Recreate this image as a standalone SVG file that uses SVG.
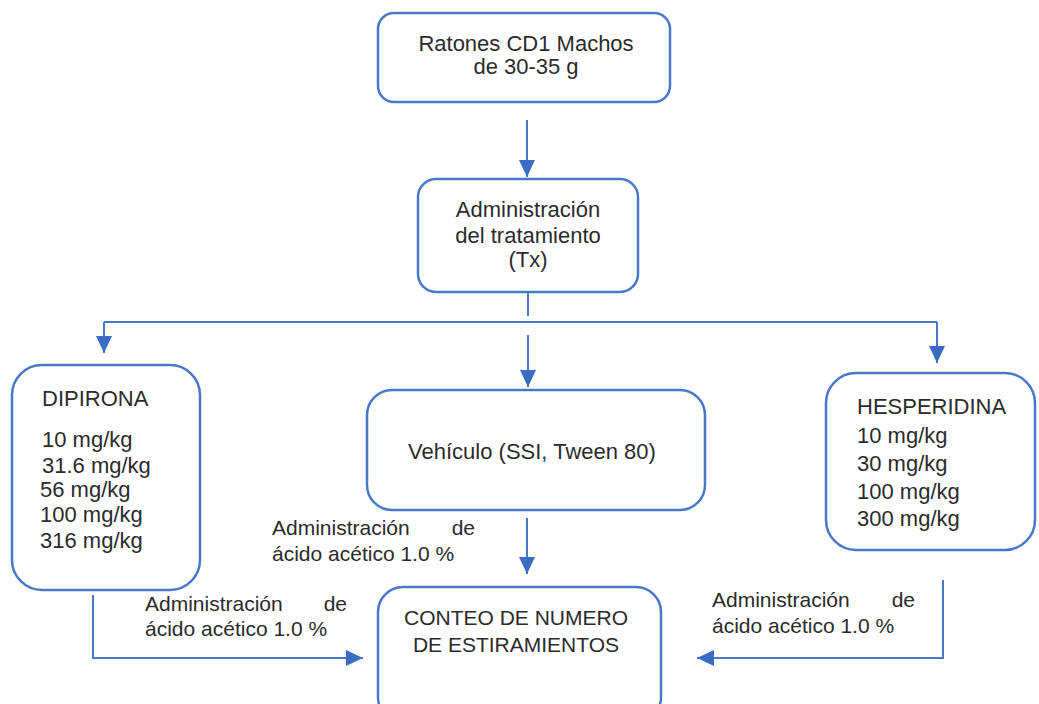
<svg xmlns="http://www.w3.org/2000/svg" width="1039" height="704" viewBox="0 0 1039 704">
<style>
.box{fill:#fff;stroke:#4a78c8;stroke-width:2.5}
.t{font-family:"Liberation Sans",Arial,sans-serif;font-size:22px;fill:#2b2b2b}
.l{font-family:"Liberation Sans",Arial,sans-serif;font-size:21px;fill:#2b2b2b}
.c{text-anchor:middle}
.ln{fill:none;stroke:#4a78c8;stroke-width:2}
</style>
<defs>
<marker id="ah" markerUnits="userSpaceOnUse" markerWidth="17" markerHeight="16" refX="17" refY="8" orient="auto">
<path d="M0,0 L17,8 L0,16 z" fill="#3a6cc4"/>
</marker>
</defs>
<rect width="1039" height="704" fill="#fff"/>
<g id="connectors">
<path class="ln" d="M527,120 V177" marker-end="url(#ah)"/>
<path class="ln" d="M528,292 V316"/>
<path class="ln" d="M104,322 H937"/>
<path class="ln" d="M104,322 V353" marker-end="url(#ah)"/>
<path class="ln" d="M937,322 V363" marker-end="url(#ah)"/>
<path class="ln" d="M528,335 V387" marker-end="url(#ah)"/>
<path class="ln" d="M527,518 V574" marker-end="url(#ah)"/>
<path class="ln" d="M93,595 V658 H363" marker-end="url(#ah)"/>
<path class="ln" d="M943,580 V658 H697" marker-end="url(#ah)"/>
</g>
<g id="ratones">
<rect class="box" x="378" y="13" width="292" height="89" rx="16"/>
<text class="t c" x="526" y="51">Ratones CD1 Machos</text>
<text class="t c" x="526" y="74">de 30-35 g</text>
</g>
<g id="administracion">
<rect class="box" x="418" y="179" width="220" height="113" rx="18"/>
<text class="t c" x="528" y="217">Administración</text>
<text class="t c" x="528" y="243">del tratamiento</text>
<text class="t c" x="528" y="267">(Tx)</text>
</g>
<g id="dipirona">
<rect class="box" x="12" y="365" width="188" height="225" rx="30"/>
<text class="t" x="42" y="406">DIPIRONA</text>
<text class="t" x="42" y="447">10 mg/kg</text>
<text class="t" x="42" y="473">31.6 mg/kg</text>
<text class="t" x="40" y="497">56 mg/kg</text>
<text class="t" x="40" y="522">100 mg/kg</text>
<text class="t" x="40" y="548">316 mg/kg</text>
</g>
<g id="vehiculo">
<rect class="box" x="367" y="390" width="338" height="120" rx="25"/>
<text class="t c" x="532" y="459">Vehículo (SSI, Tween 80)</text>
</g>
<g id="hesperidina">
<rect class="box" x="826" y="373" width="209" height="177" rx="30"/>
<text class="t" x="857" y="414">HESPERIDINA</text>
<text class="t" x="857" y="443">10 mg/kg</text>
<text class="t" x="857" y="471">30 mg/kg</text>
<text class="t" x="857" y="499">100 mg/kg</text>
<text class="t" x="857" y="526">300 mg/kg</text>
</g>
<g id="conteo">
<rect class="box" x="378" y="587" width="283" height="135" rx="25"/>
<text class="t c" x="516" y="625" style="font-size:21px">CONTEO DE NUMERO</text>
<text class="t c" x="516" y="652" style="font-size:21px">DE ESTIRAMIENTOS</text>
</g>
<g id="labels">
<text class="l"><tspan x="145" y="611">Administración</tspan><tspan x="347" y="611" text-anchor="end">de</tspan><tspan x="145" y="636">ácido acético 1.0 %</tspan></text>
<text class="l"><tspan x="272" y="535">Administración</tspan><tspan x="475" y="535" text-anchor="end">de</tspan><tspan x="272" y="561">ácido acético 1.0 %</tspan></text>
<text class="l"><tspan x="712" y="607">Administración</tspan><tspan x="915" y="607" text-anchor="end">de</tspan><tspan x="712" y="633">ácido acético 1.0 %</tspan></text>
</g>
</svg>
